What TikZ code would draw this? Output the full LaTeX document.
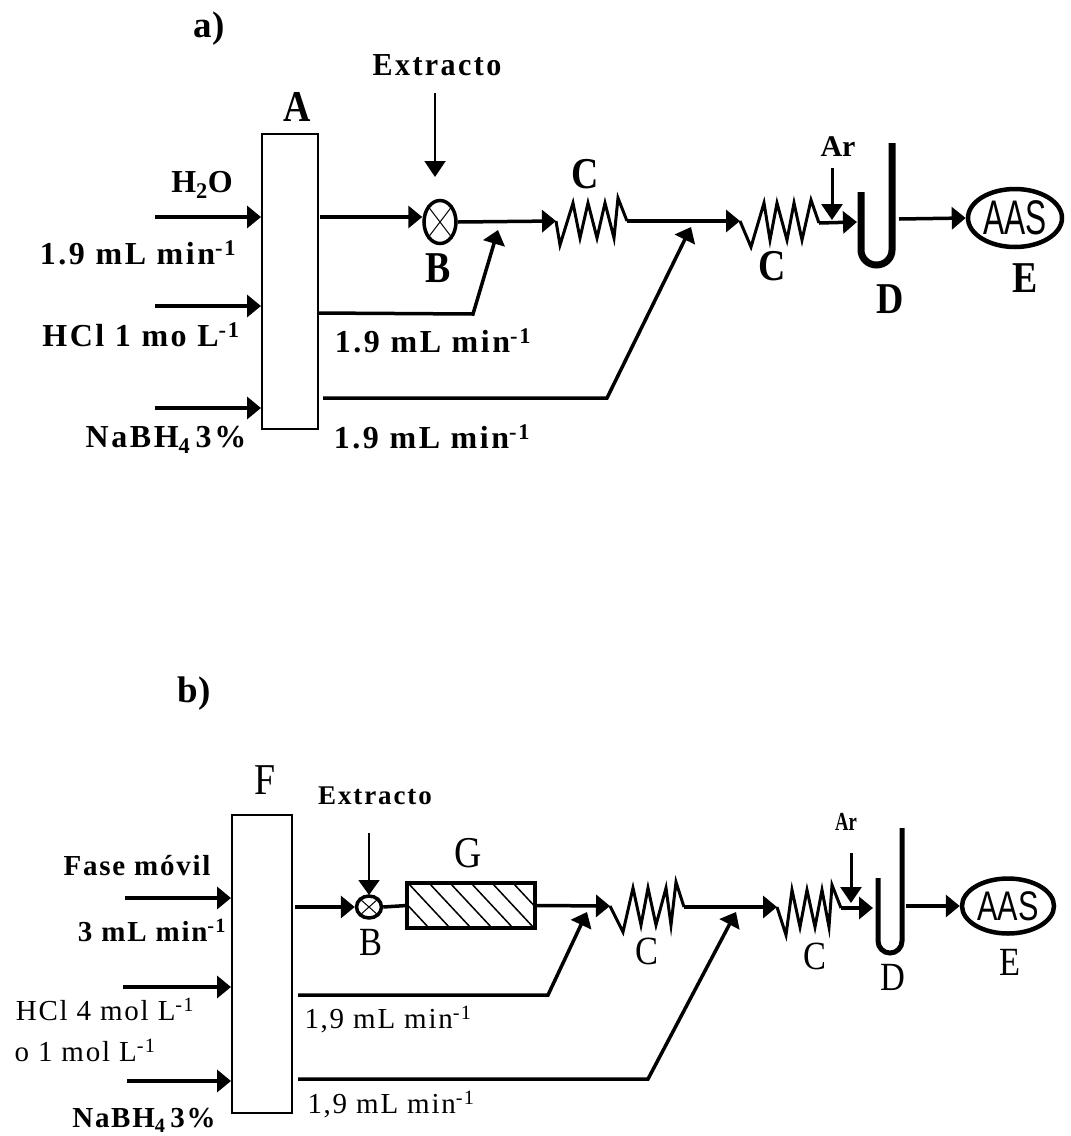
\documentclass[tikz,border=0pt]{standalone}
\usepackage{fontspec}
\setmainfont{Liberation Serif}
\newfontfamily\spaced[LetterSpace=8]{Liberation Serif}
\newfontfamily\spacedb[LetterSpace=6]{Liberation Serif}
\newfontfamily\spacedc[LetterSpace=7]{Liberation Serif}
\newfontfamily\aasfont{Liberation Sans}
\usetikzlibrary{arrows.meta,shapes.geometric}
\tikzset{
  arr/.style={line width=3.5pt,-{Triangle[length=14pt,width=22pt]}},
  downarr/.style={line width=2pt,-{Triangle[length=16pt,width=21pt]}},
  pipe/.style={line width=3.5pt},
  coil/.style={line width=3pt,line join=miter},
  tube/.style={line width=7pt},
  boxx/.style={draw,line width=1.8pt,inner sep=0pt,anchor=north west},
  mixer/.style={draw,ellipse,line width=3.5pt,inner sep=0pt},
  aas/.style={draw,ellipse,line width=4.5pt,inner sep=0pt},
  lab/.style={inner sep=0pt,font=\spaced\bfseries\fontsize{32}{34}\selectfont},
  labb/.style={inner sep=0pt,font=\spacedb\bfseries\fontsize{29}{31}\selectfont},
  labc/.style={inner sep=0pt,font=\spacedb\fontsize{29}{31}\selectfont},
  letter/.style={inner sep=0pt,font=\bfseries\fontsize{44}{46}\selectfont},
  letterb/.style={inner sep=0pt,font=\fontsize{40}{42}\selectfont},
  title/.style={inner sep=0pt,font=\bfseries\fontsize{37}{39}\selectfont},
}
\newcommand{\condensed}[1]{\scalebox{0.86}[1]{#1}}
\newcommand{\minv}{\textsuperscript{-1}}
\begin{document}
\begin{tikzpicture}[x=1pt,y=-1pt]
\useasboundingbox[fill=white] (0,0) rectangle (1071,1136);
% ---------- panel a
\node[title] (ta) at (209,29) {a)};
\node[lab] (ex1) at (437,65) {\scalebox{0.94}[1]{Extracto}};
\node[boxx,minimum width=56pt,minimum height=295pt] (A) at (261,133) {};
\node[letter] (LA) at (297,107) {\condensed{A}};
\coordinate (a1) at (155,217); \coordinate (a2) at (155,306); \coordinate (a3) at (155,408);
\draw[arr] (a1) -- (A.west |- a1);
\draw[arr] (a2) -- (A.west |- a2);
\draw[arr] (a3) -- (A.west |- a3);
\node[lab] (h2o) at (202,185) {H\textsubscript{2}O};
\node[lab] (r1) at (138,253) {1.9 mL min\minv};
\node[lab] (hcl) at (141,335) {HCl 1 mo L\minv};
\node[lab] (nab) at (166,440) {NaBH\textsubscript{4}\,3\%};
\node[lab] (r2) at (433,341) {1.9 mL min\minv};
\node[lab] (r3) at (432,437) {1.9 mL min\minv};
\node[mixer,minimum width=32pt,minimum height=43pt] (B1) at (440,222) {};
\draw[line width=1pt] (B1.north west) -- (B1.south east) (B1.north east) -- (B1.south west);
\node[letter] (LB1) at (438,268) {\condensed{B}};
\coordinate (e1) at (435,93); \coordinate (e1t) at (435,177);
\draw[downarr] (e1) -- (e1t);
\coordinate (o1) at (320,217);
\draw[arr] (o1) -- (B1.west |- o1);
% first coil
\coordinate (c1s) at (556,221);
\coordinate (c1e) at (627,221);
\draw[arr] (B1.east) -- (c1s);
\draw[coil] (c1s) -- (560,245) -- (573,203) -- (580,238) -- (588,203) -- (597,238) -- (605,203) -- (614,238) -- (618,198) -- (c1e);
\node[letter] (LC1) at (585,174) {\condensed{C}};
% second coil
\coordinate (c2s) at (740,221);
\coordinate (c2e) at (819,223);
\draw[arr] (c1e) -- (c2s);
\draw[coil] (c2s) -- (751,247) -- (764,203) -- (770,240) -- (777,203) -- (787,240) -- (794,203) -- (802,240) -- (811,200) -- (c2e);
\node[letter] (LC2) at (772,266) {\condensed{C}};
% branches
\coordinate (b1s) at (318,313); \coordinate (b1m) at (473,314); \coordinate (b1t) at (498,230);
\draw[arr,line join=miter] (b1s) -- (b1m) -- (b1t);
\coordinate (b2s) at (323,398); \coordinate (b2m) at (607,398); \coordinate (b2t) at (691,227);
\draw[arr,line join=miter] (b2s) -- (b2m) -- (b2t);
% Ar, U tube
\node[inner sep=0pt,font=\bfseries\fontsize{30}{32}\selectfont] (ar1) at (838,147) {Ar};
\coordinate (ar1s) at (832,168); \coordinate (ar1t) at (832,220);
\draw[downarr,line width=3pt] (ar1s) -- (ar1t);
\coordinate (u1l) at (861,192); \coordinate (u1r) at (892,143);
\draw[arr] (c2e) -- (857,222);
\draw[tube] (u1l) -- (861,250) arc[start angle=180,end angle=0,x radius=15.5pt,y radius=-15pt] -- (u1r);
\node[letter] (LD1) at (890,299) {\condensed{D}};
\node[aas,minimum width=94pt,minimum height=58pt] (E1) at (1015,218) {\aasfont\fontsize{36}{38}\selectfont\scalebox{0.88}[1.35]{AAS}};
\node[letter] (LE1) at (1025,278) {\condensed{E}};
\coordinate (u1o) at (899,219);
\draw[arr] (u1o) -- (E1.west);
% ---------- panel b
\node[title] (tb) at (194,694) {b)};
\node[inner sep=0pt,font=\spacedc\bfseries\fontsize{27}{29}\selectfont] (ex2) at (375,796) {Extracto};
\node[boxx,minimum width=60pt,minimum height=298pt] (F) at (231,814) {};
\node[letterb,font=\fontsize{44}{46}\selectfont] (LF) at (265,780) {\condensed{F}};
\coordinate (f1) at (125,898); \coordinate (f2) at (123,987); \coordinate (f3) at (127,1081);
\draw[arr] (f1) -- (F.west |- f1);
\draw[arr] (f2) -- (F.west |- f2);
\draw[arr] (f3) -- (F.west |- f3);
\node[labb] (fm) at (137,866) {Fase móvil};
\node[labb] (r4) at (152,930) {3 mL min\minv};
\node[labc] (hc2) at (105,1009) {HCl 4 mol L\minv};
\node[labc] (hc3) at (85,1050) {o 1 mol L\minv};
\node[labb] (nb2) at (144,1120) {NaBH\textsubscript{4}\,3\%};
\node[labc] (r5) at (388,1020) {1,9 mL min\minv};
\node[labc] (r6) at (391,1105) {1,9 mL min\minv};
\node[mixer,minimum width=25pt,minimum height=22pt] (B2) at (369,907) {};
\draw[line width=1pt] (B2.north west) -- (B2.south east) (B2.north east) -- (B2.south west);
\node[letterb] (LB2) at (371,942) {\condensed{B}};
\coordinate (e2) at (369,833); \coordinate (e2t) at (369,895);
\draw[line width=2pt,-{Triangle[length=15pt,width=21pt]}] (e2) -- (e2t);
\coordinate (o2) at (295,907);
\draw[arr] (o2) -- (B2.west);
\node[inner sep=0pt,minimum width=128pt,minimum height=45pt] (G) at (471,905.5) {};
\begin{scope}
\clip (G.south west) rectangle (G.north east);
\foreach \x in {345,366,...,535} {\draw[line width=1.5pt] (\x,883) -- (\x+42,928);}
\end{scope}
\draw[line width=3.5pt] (G.south west) rectangle (G.north east);
\node[letterb,font=\fontsize{44}{46}\selectfont] (LG) at (468,853) {\condensed{G}};
\draw[pipe] (B2.east) -- (G.west);
\coordinate (c3s) at (610,906); \coordinate (c3e) at (684,907);
\draw[arr] (G.east) -- (c3s);
\draw[coil] (c3s) -- (623,932) -- (633,888) -- (641,925) -- (648,888) -- (656,925) -- (666,888) -- (671,925) -- (676,882) -- (c3e);
\node[letterb] (LC3) at (647,951) {\condensed{C}};
\coordinate (c4s) at (777,907); \coordinate (c4e) at (841,908);
\draw[arr] (c3e) -- (c4s);
\draw[coil] (c4s) -- (786,935) -- (792,890) -- (800,927) -- (807,890) -- (815,927) -- (822,890) -- (829,927) -- (832,885) -- (c4e);
\node[letterb] (LC4) at (815,956) {\condensed{C}};
\coordinate (b3s) at (298,995); \coordinate (b3m) at (548,995); \coordinate (b3t) at (587,912);
\draw[arr,line join=miter] (b3s) -- (b3m) -- (b3t);
\coordinate (b4s) at (298,1079); \coordinate (b4m) at (648,1079); \coordinate (b4t) at (736,912);
\draw[arr,line join=miter] (b4s) -- (b4m) -- (b4t);
\node[inner sep=0pt,font=\bfseries\fontsize{26}{28}\selectfont] (ar2) at (846,822) {\scalebox{0.72}[1]{Ar}};
\coordinate (ar2s) at (851,853); \coordinate (ar2t) at (851,903);
\draw[downarr,line width=3pt] (ar2s) -- (ar2t);
\draw[arr] (c4e) -- (873,908);
\coordinate (u2l) at (878,878); \coordinate (u2r) at (902,828);
\draw[tube,line width=5pt] (u2l) -- (878,941) arc[start angle=180,end angle=0,x radius=12pt,y radius=-12pt] -- (u2r);
\node[letterb] (LD2) at (893,977) {\condensed{D}};
\node[aas,minimum width=92pt,minimum height=55pt] (E2) at (1008,906) {\aasfont\fontsize{36}{38}\selectfont\scalebox{0.85}[1.15]{AAS}};
\node[letterb] (LE2) at (1010,962) {\condensed{E}};
\coordinate (u2o) at (906,906);
\draw[arr] (u2o) -- (E2.west);
\end{tikzpicture}
\end{document}
